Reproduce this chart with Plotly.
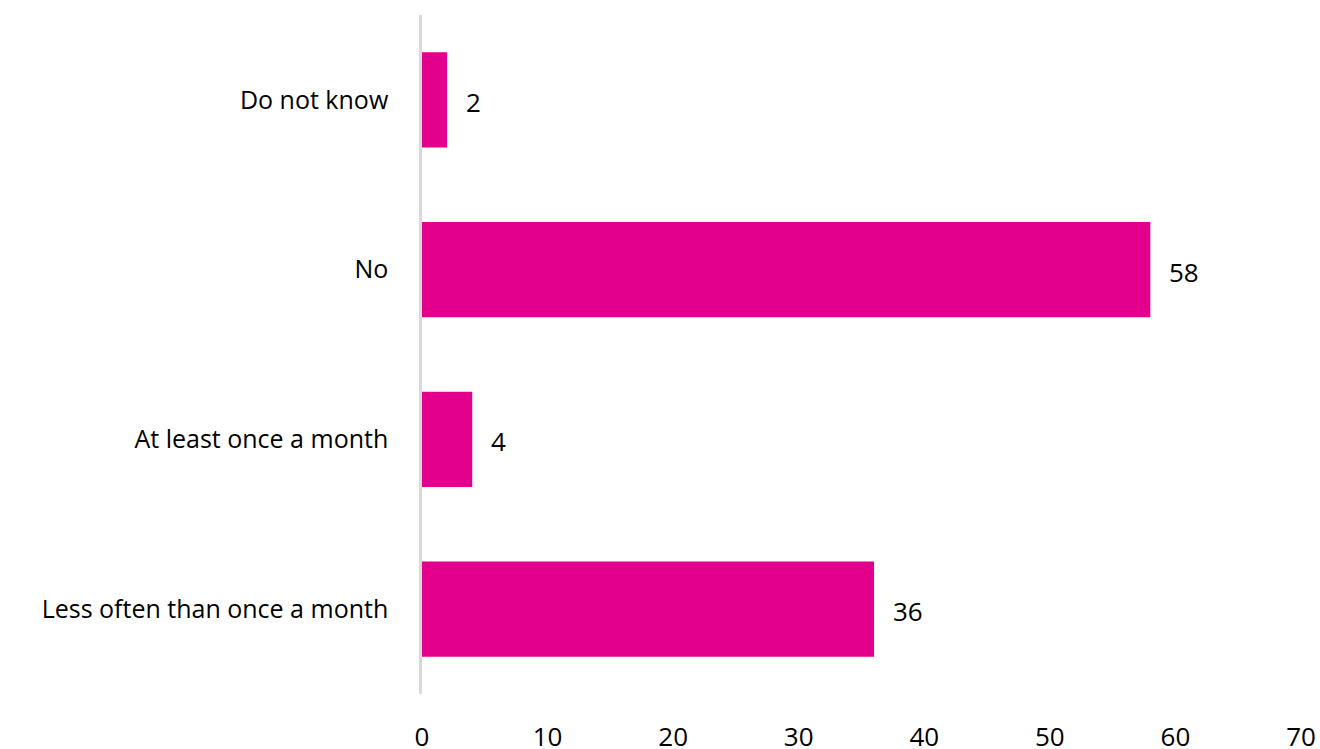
import plotly.graph_objects as go

categories = ["Less often than once a month", "At least once a month", "No", "Do not know"]
values = [36, 4, 58, 2]
x_ticks = [0, 10, 20, 30, 40, 50, 60, 70]

BAR_COLOR = "#E3008C"
FONT = "Open Sans, sans-serif"

fig = go.Figure()
fig.add_trace(go.Bar(
    y=categories, x=values, orientation="h",
    marker=dict(color=BAR_COLOR, line=dict(width=0)),
    width=0.56, showlegend=False, hoverinfo="skip",
))

for c, v in zip(categories, values):
    fig.add_annotation(x=v, y=c, text=str(v), showarrow=False,
                       xanchor="left", yanchor="middle", xshift=17, yshift=-2,
                       font=dict(family=FONT, size=26, color="#000000"))

fig.update_layout(
    width=1320, height=749,
    margin=dict(l=422, r=19, t=15, b=55, autoexpand=False),
    paper_bgcolor="white", plot_bgcolor="white",
    font=dict(family=FONT, size=25, color="#000000"),
    bargap=0.44,
)
fig.update_xaxes(range=[0, 70], tickvals=x_ticks, showgrid=False, zeroline=False,
                 showline=False, ticks="", ticklabelstandoff=25, automargin=False,
                 tickfont=dict(family=FONT, size=26, color="#000000"))
fig.update_yaxes(categoryorder="array", categoryarray=categories,
                 range=[-0.5, 3.5], showgrid=False, zeroline=False,
                 showline=True, linecolor="#D9D9D9", linewidth=2.5,
                 ticks="", ticklabelstandoff=26, automargin=False,
                 tickfont=dict(family=FONT, size=25, color="#000000"))

fig.write_html(
    "out.html",
    config={"displayModeBar": False},
    post_script="document.body.style.margin='0';document.body.style.overflow='hidden';",
)
